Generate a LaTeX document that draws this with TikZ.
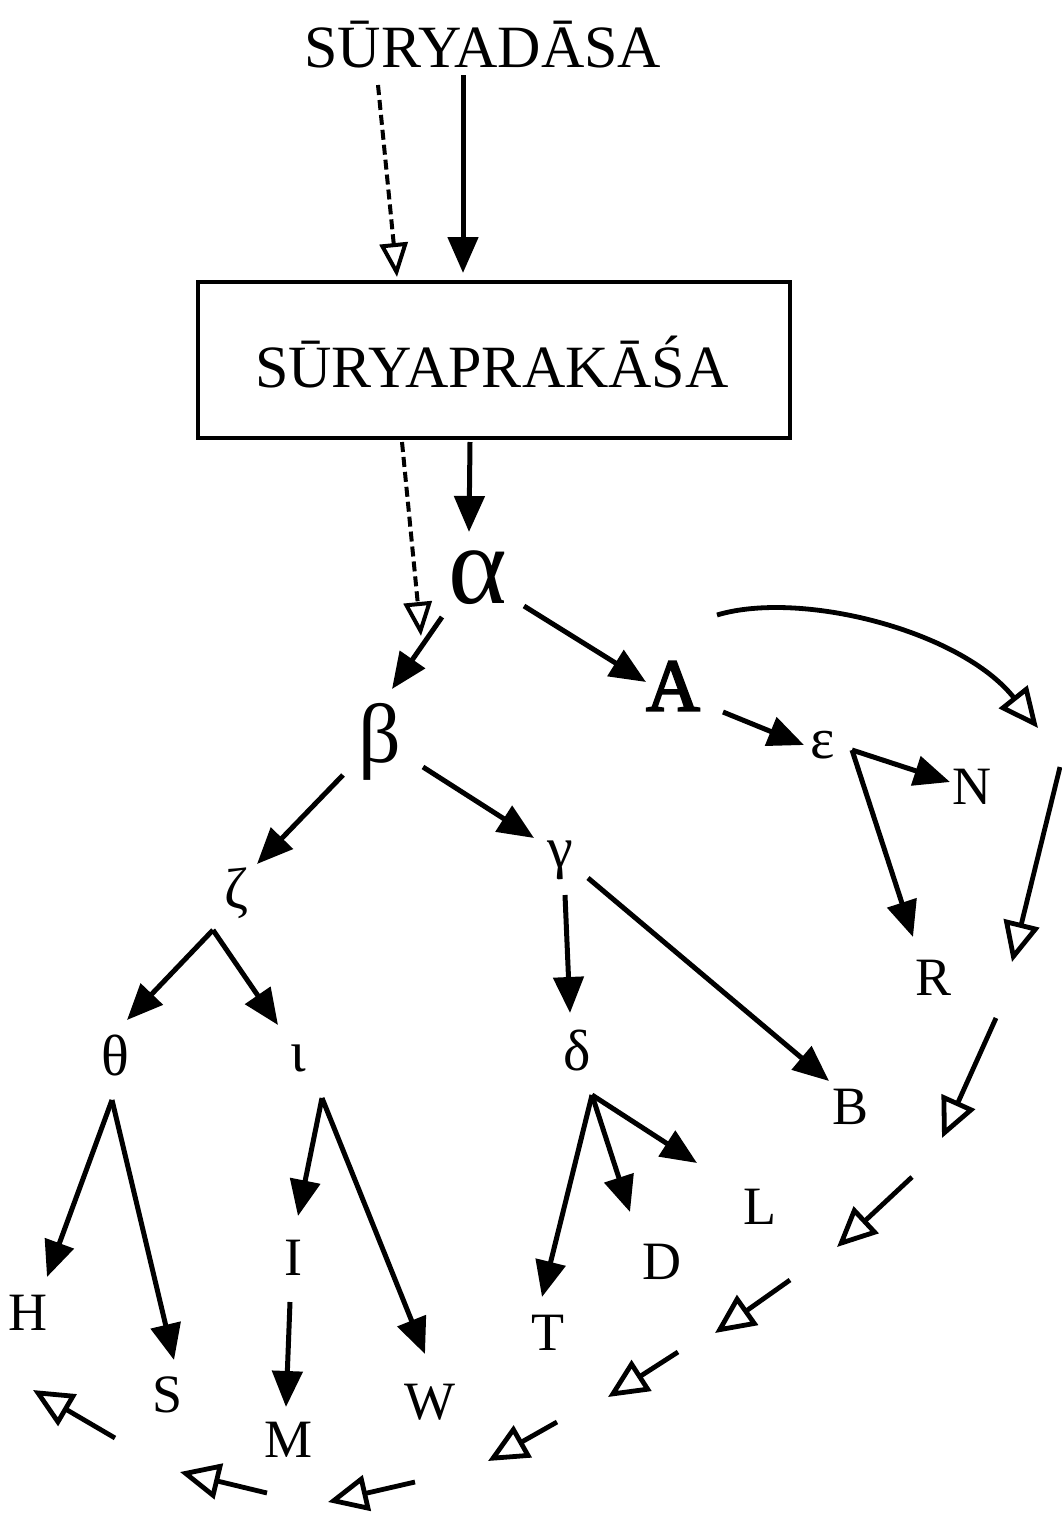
\documentclass[tikz,border=0pt]{standalone}
\usepackage{fontspec}
\setmainfont{Liberation Serif}
\newfontfamily\boldA[FakeBold=3]{Liberation Serif}
\usetikzlibrary{arrows.meta}
\begin{document}
\begin{tikzpicture}[x=0.5pt,y=-0.5pt,
  lbl/.style={font=\fontsize{27pt}{30pt}\selectfont, inner sep=0pt},
  grk/.style={font=\fontsize{29pt}{32pt}\selectfont, inner sep=0pt},
  ttl/.style={font=\fontsize{30pt}{36pt}\selectfont, inner sep=0pt},
  arr/.style={line width=2.5pt, -{Triangle[length=18pt,width=15pt]}},
  oarr/.style={line width=2.4pt, -{Triangle[open,length=20pt,width=18pt]}},
  darr/.style={line width=2pt, dash pattern=on 5pt off 2.5pt, -{Triangle[open,length=17pt,width=14pt]}},
  boxst/.style={draw, line width=1.6pt, minimum width=296pt, minimum height=78pt, inner sep=0pt}
]
\useasboundingbox (0,0) rectangle (1061,1515);

% nodes
\node[ttl] (top) at (483,45) {SŪRYADĀSA};
\node[boxst] (box) at (494,360) {};
\node[ttl] (boxt) at (492,362) {SŪRYAPRAKĀŚA};
\node[inner sep=0pt, font=\fontsize{56pt}{60pt}\selectfont] (alpha) at (478,578) {α};
\node[inner sep=0pt, font=\boldA\fontsize{37pt}{40pt}\selectfont] (A) at (673,686) {A};
\node[inner sep=0pt, font=\fontsize{42pt}{46pt}\selectfont] (beta) at (380,742) {β};
\node[grk] (eps) at (823,745) {ε};
\node[lbl] (N) at (972,787) {N};
\node[lbl] (R) at (933,978) {R};
\node[grk] (zeta) at (237,893) {ζ};
\node[grk] (gamma) at (560,860) {γ};
\node[grk] (theta) at (115,1055) {θ};
\node[grk] (iota) at (298,1058) {ι};
\node[grk] (delta) at (577,1051) {δ};
\node[lbl] (B) at (850,1107) {B};
\node[lbl] (L) at (760,1207) {L};
\node[lbl] (D) at (662,1262) {D};
\node[lbl] (T) at (548,1333) {T};
\node[lbl] (I) at (293,1258) {I};
\node[lbl] (H) at (28,1313) {H};
\node[lbl] (S) at (168,1395) {S};
\node[lbl] (M) at (289,1440) {M};
\node[lbl] (W) at (430,1402) {W};

% connector end points
\coordinate (t1) at (378,85);   \coordinate (t1e) at (397,277);
\coordinate (t2) at (463,75);   \coordinate (t2e) at (463,273);
\coordinate (b1) at (402,442);  \coordinate (b1e) at (421,636);
\coordinate (b2) at (470,442);  \coordinate (b2e) at (469,532);
\coordinate (ab) at (442,617);  \coordinate (abe) at (392,689);
\coordinate (aA) at (524,606);  \coordinate (aAe) at (646,682);
\coordinate (Ae) at (723,712);  \coordinate (Aee) at (804,745);
\coordinate (eo) at (852,750);
\coordinate (eNe) at (950,782); \coordinate (eRe) at (913,937);
\coordinate (bz) at (343,775);  \coordinate (bze) at (257,864);
\coordinate (bg) at (423,767);  \coordinate (bge) at (534,838);
\coordinate (zo) at (213,930);
\coordinate (zte) at (127,1020); \coordinate (zie) at (278,1025);
\coordinate (gd) at (565,895);  \coordinate (gde) at (570,1013);
\coordinate (gB) at (588,878);  \coordinate (gBe) at (829,1081);
\coordinate (to) at (112,1100);
\coordinate (tHe) at (47,1277); \coordinate (tSe) at (174,1360);
\coordinate (io) at (322,1098);
\coordinate (iIe) at (298,1216); \coordinate (iWe) at (425,1354);
\coordinate (IM) at (290,1302); \coordinate (IMe) at (286,1407);
\coordinate (do) at (592,1095);
\coordinate (dTe) at (542,1297); \coordinate (dDe) at (630,1212); \coordinate (dLe) at (697,1163);
% open-arrow chain
\coordinate (c1) at (717,615);  \coordinate (c1e) at (1038,728);
\coordinate (c2) at (1060,767); \coordinate (c2e) at (1012,962);
\coordinate (c3) at (996,1018); \coordinate (c3e) at (942,1138);
\coordinate (c4) at (912,1177); \coordinate (c4e) at (837,1247);
\coordinate (c5) at (790,1280); \coordinate (c5e) at (715,1333);
\coordinate (c6) at (678,1352); \coordinate (c6e) at (608,1397);
\coordinate (c7) at (557,1422); \coordinate (c7e) at (488,1461);
\coordinate (c8) at (415,1482); \coordinate (c8e) at (328,1502);
\coordinate (c9) at (267,1493); \coordinate (c9e) at (180,1472);
\coordinate (c10) at (115,1438); \coordinate (c10e) at (33,1390);

% connectors
\draw[darr] (t1) -- (t1e);
\draw[arr] (t2) -- (t2e);
\draw[darr] (b1) -- (b1e);
\draw[arr] (b2) -- (b2e);
\draw[arr] (ab) -- (abe);
\draw[arr] (aA) -- (aAe);
\draw[arr] (Ae) -- (Aee);
\draw[arr] (eo) -- (eNe);
\draw[arr] (eo) -- (eRe);
\draw[arr] (bz) -- (bze);
\draw[arr] (bg) -- (bge);
\draw[arr] (zo) -- (zte);
\draw[arr] (zo) -- (zie);
\draw[arr] (gd) -- (gde);
\draw[arr] (gB) -- (gBe);
\draw[arr] (to) -- (tHe);
\draw[arr] (to) -- (tSe);
\draw[arr] (io) -- (iIe);
\draw[arr] (io) -- (iWe);
\draw[arr] (IM) -- (IMe);
\draw[arr] (do) -- (dTe);
\draw[arr] (do) -- (dDe);
\draw[arr] (do) -- (dLe);

\draw[oarr] (c1) .. controls (800,590) and (960,630) .. (c1e);
\draw[oarr] (c2) -- (c2e);
\draw[oarr] (c3) -- (c3e);
\draw[oarr] (c4) -- (c4e);
\draw[oarr] (c5) -- (c5e);
\draw[oarr] (c6) -- (c6e);
\draw[oarr] (c7) -- (c7e);
\draw[oarr] (c8) -- (c8e);
\draw[oarr] (c9) -- (c9e);
\draw[oarr] (c10) -- (c10e);
\end{tikzpicture}
\end{document}
